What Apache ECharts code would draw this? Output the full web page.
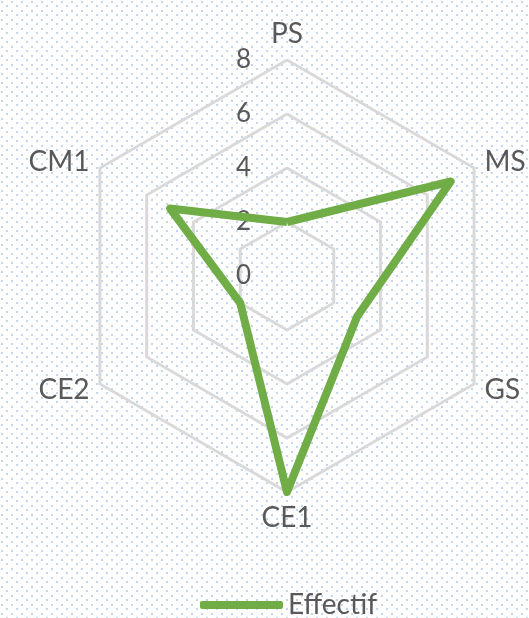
<!DOCTYPE html>
<html>
<head>
<meta charset="utf-8">
<script src="https://cdn.jsdelivr.net/npm/echarts@6/dist/echarts.min.js"></script>
<style>
  html, body { margin: 0; padding: 0; background: #fff; }
  #chart { width: 529px; height: 618px; }
</style>
</head>
<body>
<div id="chart"></div>
<script>
  // categories, clockwise from top
  const categories = ['PS', 'MS', 'GS', 'CE1', 'CE2', 'CM1'];
  const effectif = [2, 7, 3, 8, 2, 5];
  const axisMax = 8;
  const seriesName = 'Effectif';

  // echarts radar runs counter-clockwise, so keep first and reverse the rest
  const order = [0].concat(categories.map((c, i) => i).slice(1).reverse());

  // dotted background like the excel pattern fill
  function makePattern() {
    let c = document.createElement('canvas');
    c.width = 10;
    c.height = 9;
    let ctx = c.getContext('2d');
    ctx.fillStyle = '#ffffff';
    ctx.fillRect(0, 0, 10, 9);
    ctx.fillStyle = '#c3d6ee';
    ctx.fillRect(1, 1, 2, 2);
    ctx.fillRect(6, 5, 2, 2);
    return c;
  }

  let myChart = echarts.init(document.getElementById('chart'));
  const font = 'Lato';

  myChart.setOption({
    backgroundColor: { image: makePattern(), repeat: 'repeat' },
    legend: {
      data: [seriesName],
      left: 195,
      top: 586,
      icon: 'roundRect',
      itemWidth: 83,
      itemHeight: 8,
      itemGap: 6,
      textStyle: { fontFamily: font, fontSize: 28, color: '#595959' }
    },
    radar: {
      center: [287, 276],
      radius: 216,
      startAngle: 90,
      splitNumber: 4,
      shape: 'polygon',
      indicator: order.map((k, i) => ({
        name: categories[k],
        min: 0,
        max: axisMax,
        axisLabel: { show: i === 0 }
      })),
      axisName: { fontFamily: font, fontSize: 28, color: '#595959' },
      nameGap: 12,
      axisLine: { show: false },
      axisTick: { show: false },
      axisLabel: {
        show: true,
        fontFamily: font,
        fontSize: 26,
        color: '#595959',
        margin: 36
      },
      splitLine: { lineStyle: { color: '#d9d9d9', width: 3 } },
      splitArea: { show: false }
    },
    series: [{
      name: seriesName,
      type: 'radar',
      symbol: 'none',
      lineStyle: { color: '#70ad47', width: 8, join: 'round' },
      itemStyle: { color: '#70ad47' },
      data: [{ name: seriesName, value: order.map(k => effectif[k]) }]
    }]
  });
</script>
</body>
</html>
